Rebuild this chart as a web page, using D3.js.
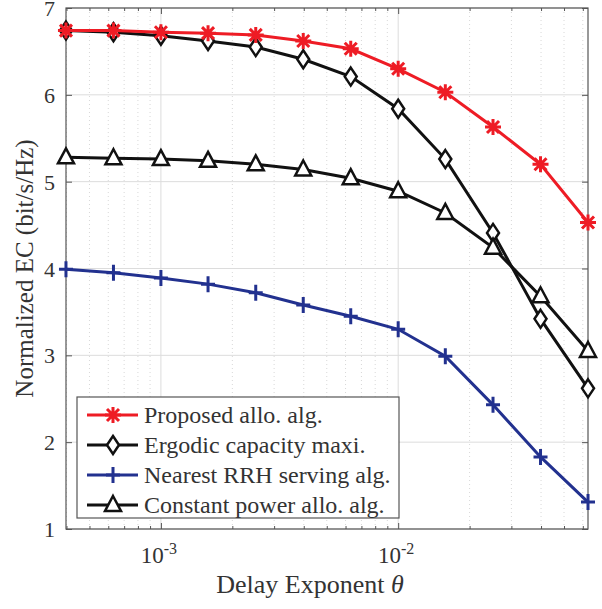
<!DOCTYPE html>
<html>
<head>
<meta charset="utf-8">
<script src="https://cdn.jsdelivr.net/npm/d3@7"></script>
<style>
body { margin: 0; background: #fff; }
text { font-family: "Liberation Serif", "Times New Roman", serif; fill: #333; }
</style>
</head>
<body>
<script>
// delay exponent values (log spaced, 0.2 decade)
var theta = [0.000398, 0.000631, 0.001, 0.00158, 0.00251, 0.00398, 0.00631, 0.01, 0.0158, 0.0251, 0.0398, 0.0631];

var proposed = [6.74, 6.74, 6.72, 6.71, 6.69, 6.62, 6.53, 6.30, 6.03, 5.63, 5.20, 4.53];
var ergodic  = [6.74, 6.72, 6.68, 6.62, 6.55, 6.41, 6.21, 5.84, 5.26, 4.41, 3.42, 2.62];
var nearest  = [3.99, 3.95, 3.89, 3.82, 3.72, 3.58, 3.45, 3.30, 2.99, 2.43, 1.83, 1.31];
var constant = [5.28, 5.27, 5.26, 5.24, 5.20, 5.14, 5.04, 4.89, 4.64, 4.24, 3.68, 3.05];

var yTicks = [1, 2, 3, 4, 5, 6, 7];
var xTicks = [0.001, 0.01];
var legendLabels = ["Proposed allo. alg.", "Ergodic capacity maxi.", "Nearest RRH serving alg.", "Constant power allo. alg."];

var width = 602, height = 609;
var m = {left: 66, right: 14, top: 8, bottom: 80};
var iw = width - m.left - m.right, ih = height - m.top - m.bottom;

var svg = d3.select("body").append("svg")
    .attr("width", width)
    .attr("height", height);

var g = svg.append("g").attr("transform", "translate(" + m.left + "," + m.top + ")");

var x = d3.scaleLog().domain([Math.pow(10, -3.4), Math.pow(10, -1.2)]).range([0, iw]);
var y = d3.scaleLinear().domain([1, 7]).range([ih, 0]);

// minor ticks
var minor = [];
[-4, -3, -2].forEach(function(e){
    for (var k = 2; k <= 9; k++) {
        var v = k * Math.pow(10, e);
        if (v >= x.domain()[0] && v <= x.domain()[1]) minor.push(v);
    }
});

// grid
g.selectAll(".mgrid").data(minor).enter().append("line")
    .attr("x1", d => x(d)).attr("x2", d => x(d))
    .attr("y1", 0).attr("y2", ih)
    .attr("stroke", "#d8d8d8").attr("stroke-width", 1).attr("stroke-dasharray", "1,3");
g.selectAll(".xgrid").data(xTicks).enter().append("line")
    .attr("x1", d => x(d)).attr("x2", d => x(d))
    .attr("y1", 0).attr("y2", ih)
    .attr("stroke", "#dcdcdc").attr("stroke-width", 1);
g.selectAll(".ygrid").data(yTicks).enter().append("line")
    .attr("x1", 0).attr("x2", iw)
    .attr("y1", d => y(d)).attr("y2", d => y(d))
    .attr("stroke", "#dcdcdc").attr("stroke-width", 1);

// axes, ticks inward
var axisColor = "#555";
function styleAxis(sel) {
    sel.select(".domain").remove();
    sel.selectAll(".tick line").attr("stroke", axisColor);
}
g.append("g").attr("transform", "translate(0," + ih + ")")
    .call(d3.axisBottom(x).tickValues(xTicks).tickSizeInner(-6).tickFormat(""))
    .call(styleAxis);
g.append("g").attr("transform", "translate(0," + ih + ")")
    .call(d3.axisBottom(x).tickValues(minor).tickSizeInner(-3).tickFormat(""))
    .call(styleAxis);
g.append("g")
    .call(d3.axisTop(x).tickValues(xTicks).tickSizeInner(-6).tickFormat(""))
    .call(styleAxis);
g.append("g")
    .call(d3.axisTop(x).tickValues(minor).tickSizeInner(-3).tickFormat(""))
    .call(styleAxis);
g.append("g")
    .call(d3.axisLeft(y).tickValues(yTicks).tickSizeInner(-6).tickFormat(""))
    .call(styleAxis);
g.append("g").attr("transform", "translate(" + iw + ",0)")
    .call(d3.axisRight(y).tickValues(yTicks).tickSizeInner(-6).tickFormat(""))
    .call(styleAxis);

g.append("rect").attr("width", iw).attr("height", ih)
    .attr("fill", "none").attr("stroke", axisColor).attr("stroke-width", 1.2);

// tick labels
g.selectAll(".ylab").data(yTicks).enter().append("text")
    .attr("x", -11).attr("y", d => y(d) + 8)
    .attr("text-anchor", "end").attr("font-size", 22)
    .text(d => d);

var xl = g.selectAll(".xlab").data(xTicks).enter().append("text")
    .attr("x", d => x(d) - 2).attr("y", ih + 34)
    .attr("text-anchor", "middle").attr("font-size", 23);
xl.append("tspan").text("10");
xl.append("tspan").attr("dy", -9).attr("font-size", 16).text(d => Math.round(Math.log10(d)));

// axis titles
var xt = g.append("text").attr("x", iw / 2 - 17).attr("y", ih + 64)
    .attr("text-anchor", "middle").attr("font-size", 26);
xt.append("tspan").text("Delay Exponent ");
xt.append("tspan").attr("font-style", "italic").text("\u03b8");

g.append("text")
    .attr("transform", "translate(-33," + (ih / 2) + ") rotate(-90)")
    .attr("text-anchor", "middle").attr("font-size", 25)
    .text("Normalized EC (bit/s/Hz)");

// series
var red = "#ee1c25", blue = "#22318f", black = "#111";
var series = [
    {vals: ergodic,  color: black, marker: "diamond"},
    {vals: constant, color: black, marker: "triangle"},
    {vals: nearest,  color: blue,  marker: "plus"},
    {vals: proposed, color: red,   marker: "star"}
];
var legendOrder = [
    {color: red, marker: "star"},
    {color: black, marker: "diamond"},
    {color: blue, marker: "plus"},
    {color: black, marker: "triangle"}
];

var line = d3.line().x(d => x(d[0])).y(d => y(d[1]));

function drawMarker(sel, type, color) {
    if (type === "diamond") {
        sel.append("path").attr("d", "M0,-9L6,0L0,9L-6,0Z")
            .attr("fill", "#fff").attr("stroke", color).attr("stroke-width", 2.5);
    } else if (type === "triangle") {
        sel.append("path").attr("d", "M0,-9L8,6L-8,6Z")
            .attr("fill", "#fff").attr("stroke", color).attr("stroke-width", 2.5);
    } else if (type === "plus") {
        sel.append("path").attr("d", "M-7,0L7,0M0,-8L0,8")
            .attr("stroke", color).attr("stroke-width", 3);
    } else if (type === "star") {
        sel.append("path").attr("d", "M-8,0L8,0M0,-8L0,8M-6,-6L6,6M-6,6L6,-6")
            .attr("stroke", color).attr("stroke-width", 3);
    }
}

series.forEach(function(s){
    var pts = theta.map((t, i) => [t, s.vals[i]]);
    g.append("path").datum(pts)
        .attr("d", line).attr("fill", "none")
        .attr("stroke", s.color).attr("stroke-width", 3);
    pts.forEach(function(p){
        var mk = g.append("g").attr("transform", "translate(" + x(p[0]) + "," + y(p[1]) + ")");
        drawMarker(mk, s.marker, s.color);
    });
});

// legend
var lg = svg.append("g").attr("transform", "translate(77,397)");
lg.append("rect").attr("width", 322).attr("height", 121)
    .attr("fill", "#fff").attr("stroke", "#555").attr("stroke-width", 1.2);
legendOrder.forEach(function(d, i){
    var yy = 18 + i * 30;
    lg.append("line").attr("x1", 10).attr("x2", 61).attr("y1", yy).attr("y2", yy)
        .attr("stroke", d.color).attr("stroke-width", 3);
    var mk = lg.append("g").attr("transform", "translate(36," + yy + ")");
    drawMarker(mk, d.marker, d.color);
    lg.append("text").attr("x", 67).attr("y", yy + 8)
        .attr("font-size", 24).text(legendLabels[i]);
});
</script>
</body>
</html>
